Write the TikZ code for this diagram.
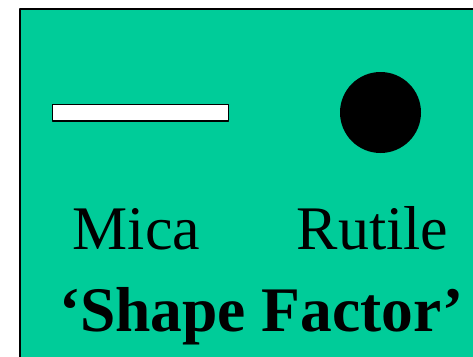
\documentclass[tikz,border=0pt]{standalone}
\usepackage{fontspec}
\setmainfont{Liberation Serif}
\definecolor{panelgreen}{RGB}{0,204,153}
\begin{document}
\begin{tikzpicture}[x=1pt,y=-1pt,line join=round,
		label/.style={anchor=base,inner sep=0pt,font=\fontsize{62}{62}\selectfont},
		title/.style={anchor=base,inner sep=0pt,font=\fontsize{63.5}{63.5}\selectfont\bfseries}]
				\useasboundingbox (0,0) rectangle (473,356);
				\begin{scope}
					\clip (0,0) rectangle (473,356);
					\draw[line width=2pt,fill=panelgreen] (20,8.5) rectangle (480,370);
				\end{scope}
				
				\draw[line width=1.5pt,fill=white] (52.7,104.7) rectangle (228.5,121);
				\fill (380.5,112.5) circle (40.5);
				
				\node[label] (mica) at (136.5,249) {Mica};
				\node[label] (rutile) at (372.5,249) {Rutile};
				\node[title] (shape) at (261.5,331) {‘Shape Factor’};
			\end{tikzpicture}
\end{document}
